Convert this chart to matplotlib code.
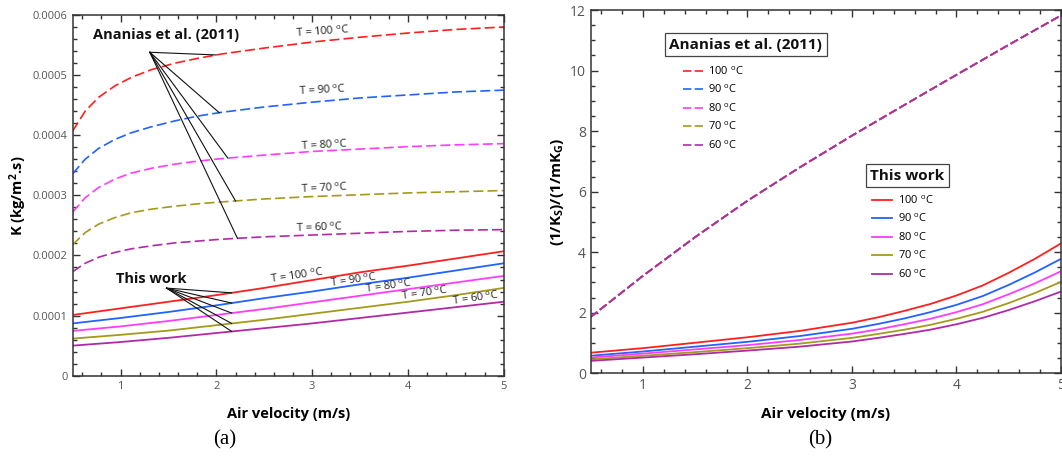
import numpy as np
import matplotlib
matplotlib.use("Agg")
import matplotlib.pyplot as plt
from matplotlib.ticker import MultipleLocator, FuncFormatter

plt.rcParams['font.family'] = ['Open Sans', 'DejaVu Sans']
plt.rcParams['mathtext.fontset'] = 'custom'
plt.rcParams['mathtext.rm'] = 'Open Sans'
plt.rcParams['mathtext.it'] = 'Open Sans'
plt.rcParams['mathtext.bf'] = 'Open Sans:bold'

temps = ["100", "90", "80", "70", "60"]
colors = ["#ff1f1f", "#2262ff", "#ff3cff", "#a39a1c", "#b12aa5"]

# ---------------- Panel (a) data ----------------
# Ananias et al. (2011), K in units of 1e-4 kg/m2.s
xa_ref = [0.5, 0.63, 0.77, 0.94, 1.11, 1.32, 1.57, 1.81, 2.05, 2.5, 3.0, 3.5, 4.0, 4.5, 5.0]
k_ref_100 = [4.07, 4.40, 4.63, 4.82, 4.96, 5.09, 5.20, 5.28, 5.35, 5.45, 5.55, 5.63, 5.70, 5.76, 5.80]
k_ref_90 = [3.36, 3.60, 3.78, 3.93, 4.04, 4.14, 4.24, 4.32, 4.38, 4.47, 4.55, 4.62, 4.67, 4.72, 4.75]
k_ref_80 = [2.72, 2.96, 3.13, 3.27, 3.37, 3.45, 3.52, 3.57, 3.61, 3.67, 3.73, 3.77, 3.81, 3.84, 3.86]
k_ref_70 = [2.18, 2.38, 2.52, 2.63, 2.71, 2.77, 2.82, 2.86, 2.89, 2.94, 2.98, 3.01, 3.04, 3.06, 3.08]
k_ref_60 = [1.73, 1.87, 1.97, 2.05, 2.11, 2.16, 2.21, 2.24, 2.27, 2.31, 2.34, 2.37, 2.40, 2.42, 2.43]

# This work, K in units of 1e-4 kg/m2.s
xa_tw = [0.5, 1.0, 1.5, 2.0, 2.5, 3.0, 3.5, 4.0, 4.5, 5.0]
k_tw_100 = [1.01, 1.12, 1.23, 1.34, 1.46, 1.59, 1.72, 1.83, 1.95, 2.07]
k_tw_90 = [0.87, 0.96, 1.06, 1.17, 1.29, 1.40, 1.52, 1.63, 1.75, 1.87]
k_tw_80 = [0.745, 0.82, 0.91, 1.01, 1.11, 1.22, 1.33, 1.44, 1.55, 1.66]
k_tw_70 = [0.617, 0.68, 0.75, 0.84, 0.93, 1.03, 1.13, 1.23, 1.34, 1.46]
k_tw_60 = [0.50, 0.56, 0.63, 0.71, 0.79, 0.87, 0.96, 1.05, 1.14, 1.23]

# ---------------- Panel (b) data ----------------
xb_ref = [0.5, 1.0, 1.5, 2.0, 2.5, 3.0, 3.5, 4.0, 4.5, 5.0]
ratio_ref = [1.86, 3.22, 4.50, 5.70, 6.80, 7.85, 8.86, 9.86, 10.85, 11.82]
xb_tw = [0.5, 1.0, 1.5, 2.0, 2.5, 3.0, 3.25, 3.5, 3.75, 4.0, 4.25, 4.5, 4.75, 5.0]
r_tw_100 = [0.68, 0.83, 1.01, 1.19, 1.40, 1.67, 1.85, 2.06, 2.29, 2.57, 2.90, 3.32, 3.78, 4.29]
r_tw_90 = [0.58, 0.72, 0.88, 1.04, 1.23, 1.47, 1.63, 1.81, 2.02, 2.26, 2.55, 2.92, 3.33, 3.78]
r_tw_80 = [0.52, 0.65, 0.79, 0.93, 1.10, 1.31, 1.45, 1.62, 1.80, 2.02, 2.28, 2.61, 2.97, 3.37]
r_tw_70 = [0.46, 0.58, 0.70, 0.83, 0.98, 1.17, 1.30, 1.44, 1.60, 1.80, 2.03, 2.32, 2.65, 3.02]
r_tw_60 = [0.41, 0.52, 0.63, 0.75, 0.88, 1.05, 1.17, 1.30, 1.44, 1.62, 1.83, 2.09, 2.38, 2.70]

SCALE = 1e-4
k_ref = [k_ref_100, k_ref_90, k_ref_80, k_ref_70, k_ref_60]
k_tw = [k_tw_100, k_tw_90, k_tw_80, k_tw_70, k_tw_60]
r_tw = [r_tw_100, r_tw_90, r_tw_80, r_tw_70, r_tw_60]

W, H = 1062, 469
fig = plt.figure(figsize=(W / 100, H / 100), dpi=100)
axa = fig.add_axes([72.7 / W, (H - 375.7) / H, 431 / W, 360.7 / H])
axb = fig.add_axes([590.7 / W, (H - 373.3) / H, 470.3 / W, 363.3 / H])

tick_col = "#555555"
spine_col = "#333333"
DEG = r"$^{\mathrm{o}}$C"


def style(ax, fs):
    ax.tick_params(which='both', direction='in', top=True, right=True,
                   colors=spine_col, labelcolor=tick_col, labelsize=fs, width=1.0)
    ax.tick_params(which='major', length=5)
    ax.tick_params(which='minor', length=3)
    for s in ax.spines.values():
        s.set_color(spine_col)
        s.set_linewidth(1.1)
    ax.xaxis.set_major_locator(MultipleLocator(1))
    ax.xaxis.set_minor_locator(MultipleLocator(0.2))


# ---- panel a ----
for ys, c in zip(k_ref, colors):
    axa.plot(xa_ref, np.array(ys) * SCALE, color=c, lw=1.2, dashes=(6, 2.5))
for ys, c in zip(k_tw, colors):
    axa.plot(xa_tw, np.array(ys) * SCALE, color=c, lw=1.3)
axa.set_xlim(0.5, 5)
axa.set_ylim(0, 0.0006)
style(axa, 8)
axa.yaxis.set_major_locator(MultipleLocator(0.0001))
axa.yaxis.set_minor_locator(MultipleLocator(0.00002))
axa.yaxis.set_major_formatter(FuncFormatter(lambda v, p: "0" if abs(v) < 1e-12 else f"{v:.4f}"))
axa.set_xlabel("Air velocity (m/s)", fontsize=10.5, fontweight='bold', labelpad=11)
axa.set_ylabel(r"K (kg/m$^\mathbf{2}$.s)", fontsize=10.5, fontweight='bold', labelpad=3)

lab_fs = 8
ref_label_pos = [(3.11, 5.72, 4), (3.11, 4.75, 3), (3.13, 3.83, 3), (3.13, 3.12, 3), (3.08, 2.46, 2)]
for t, (x, y, r) in zip(temps, ref_label_pos):
    axa.text(x, y * SCALE, f"T = {t} " + DEG, fontsize=lab_fs, ha='center', va='center',
             rotation=r, color="#222222")
tw_label_pos = [(2.84, 1.66, 8), (3.43, 1.59, 8), (3.80, 1.48, 8), (4.18, 1.37, 8), (4.71, 1.28, 8)]
for t, (x, y, r) in zip(temps, tw_label_pos):
    axa.text(x, y * SCALE, f"T = {t} " + DEG, fontsize=lab_fs, ha='center', va='center',
             rotation=r, color="#222222")

axa.text(1.48, 5.66 * SCALE, "Ananias et al. (2011)", fontsize=10.5, fontweight='bold',
         ha='center', va='center', color="#111111")
axa.text(1.32, 1.61 * SCALE, "This work", fontsize=10.5, fontweight='bold',
         ha='center', va='center', color="#111111")

# pointer lines
origin_ref = (1.305, 5.38 * SCALE)
ends_ref_x = [2.0, 2.03, 2.12, 2.2, 2.22]
for ys, xe in zip(k_ref, ends_ref_x):
    ye = np.interp(xe, xa_ref, ys) * SCALE
    axa.plot([origin_ref[0], xe], [origin_ref[1], ye], color="#111111", lw=0.8)
origin_tw = (1.48, 1.457 * SCALE)
for ys in k_tw:
    xe = 2.16
    ye = np.interp(xe, xa_tw, ys) * SCALE
    axa.plot([origin_tw[0], xe], [origin_tw[1], ye], color="#111111", lw=0.8)

# ---- panel b ----
ref_handles = []
for t, c in zip(temps, colors):
    h, = axb.plot(xb_ref, ratio_ref, color=c, lw=1.2, dashes=(5, 2), label=f"{t} " + DEG)
    ref_handles.append(h)
tw_handles = []
for ys, t, c in zip(r_tw, temps, colors):
    h, = axb.plot(xb_tw, ys, color=c, lw=1.3, label=f"{t} " + DEG)
    tw_handles.append(h)
axb.set_xlim(0.5, 5)
axb.set_ylim(0, 12)
style(axb, 10)
axb.yaxis.set_major_locator(MultipleLocator(2))
axb.yaxis.set_minor_locator(MultipleLocator(0.5))
axb.set_xlabel("Air velocity (m/s)", fontsize=11, fontweight='bold', labelpad=10)
axb.set_ylabel(r"(1/K$_\mathbf{S}$)/(1/mK$_\mathbf{G}$)", fontsize=11, fontweight='bold', labelpad=3)

leg_kw = dict(loc='upper left', frameon=False, fontsize=8, handlelength=1.8, handletextpad=0.5,
              labelspacing=0.55, borderpad=0, borderaxespad=0)
leg1 = axb.legend(handles=ref_handles, bbox_to_anchor=(0.196, 0.848), **leg_kw)
axb.add_artist(leg1)
axb.legend(handles=tw_handles, bbox_to_anchor=(0.599, 0.493), **leg_kw)
box = dict(boxstyle='square,pad=0.3', fc='white', ec='#444444', lw=0.9)
axb.text(0.33, 0.905, "Ananias et al. (2011)", transform=axb.transAxes, fontsize=11,
         fontweight='bold', ha='center', va='center', bbox=box, color="#111111")
axb.text(0.673, 0.544, "This work", transform=axb.transAxes, fontsize=11,
         fontweight='bold', ha='center', va='center', bbox=box, color="#111111")

fig.text(225 / W, 1 - 440 / H, "(a)", family='Liberation Serif', fontsize=15, ha='center', va='center')
fig.text(820 / W, 1 - 440 / H, "(b)", family='Liberation Serif', fontsize=15, ha='center', va='center')

fig.savefig("out.png", dpi=100)
